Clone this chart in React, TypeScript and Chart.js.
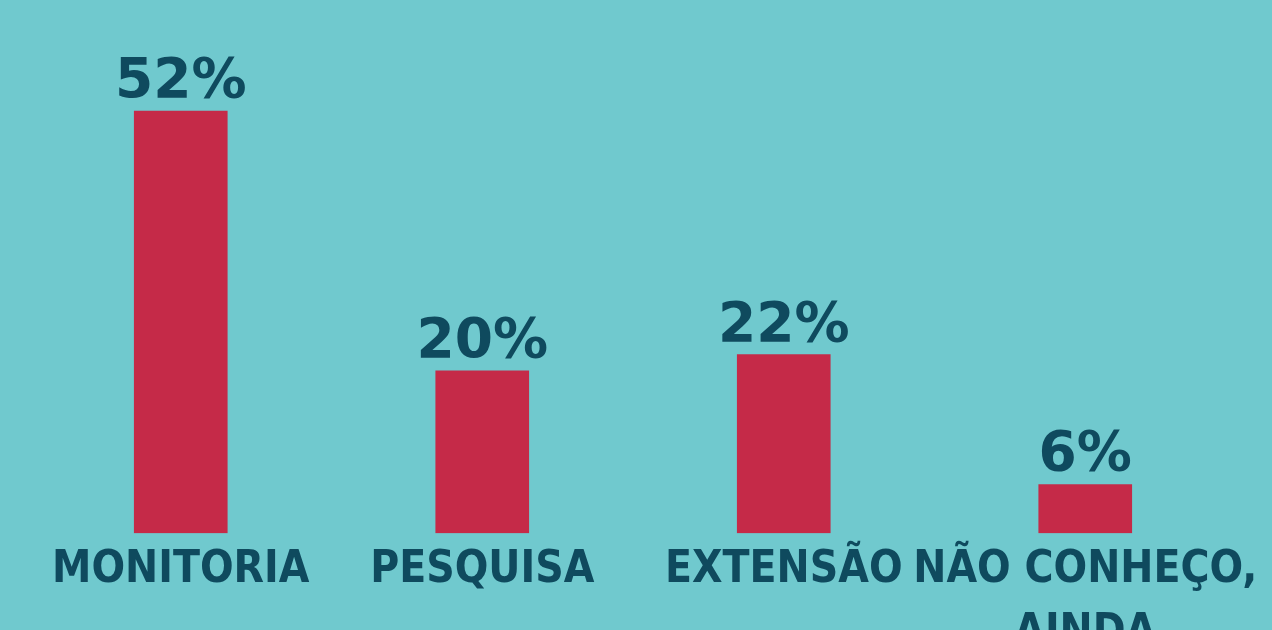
import React, { useEffect, useRef } from "react";
import { Chart, registerables } from "chart.js";

Chart.register(...registerables);

const categories: (string | string[])[] = [
  "MONITORIA",
  "PESQUISA",
  "EXTENSÃO",
  ["NÃO CONHEÇO,", "AINDA"],
];
const values: number[] = [52, 20, 22, 6];

const BG = "#70C9CE";
const BAR = "#C52A48";
const TEXT = "#0F4A5E";

const valueLabels = {
  id: "valueLabels",
  afterDatasetsDraw(chart: any) {
    const ctx = chart.ctx;
    const meta = chart.getDatasetMeta(0);
    ctx.save();
    ctx.fillStyle = TEXT;
    ctx.font = "bold 55px 'DejaVu Sans', sans-serif";
    ctx.textAlign = "center";
    ctx.textBaseline = "alphabetic";
    meta.data.forEach((bar: any, i: number) => {
      ctx.fillText(values[i] + "%", bar.x, bar.y - 14);
    });
    ctx.restore();
  },
};

export default function App() {
  const ref = useRef<HTMLCanvasElement | null>(null);
  useEffect(() => {
    document.body.style.margin = "0";
    document.body.style.background = BG;
    document.body.style.overflow = "hidden";
    if (!ref.current) return;
    const chart = new Chart(ref.current, {
      type: "bar",
      data: {
        labels: categories,
        datasets: [
          {
            data: values,
            backgroundColor: BAR,
            borderWidth: 0,
            barThickness: 93,
          },
        ],
      },
      options: {
        animation: false,
        responsive: false,
        maintainAspectRatio: false,
        layout: { padding: { left: 30, right: 36, top: 0, bottom: 0 } },
        plugins: {
          legend: { display: false },
          tooltip: { enabled: false },
        },
        scales: {
          x: {
            grid: { display: false, drawTicks: false },
            border: { display: false },
            ticks: {
              color: TEXT,
              padding: 6,
              maxRotation: 0,
              autoSkip: false,
              font: {
                family: "'DejaVu Sans Condensed', 'Liberation Sans Narrow', 'DejaVu Sans', sans-serif",
                weight: "bold",
                size: 44,
                lineHeight: 1.43,
              },
            },
          },
          y: {
            display: false,
            min: 0,
            max: 65.7,
          },
        },
      },
      plugins: [valueLabels],
    });
    return () => chart.destroy();
  }, []);
  return (
    <div
      style={{
        position: "fixed",
        left: 0,
        top: 0,
        width: 1272,
        height: 671,
        background: BG,
      }}
    >
      <canvas ref={ref} width={1272} height={671} style={{ display: "block" }} />
    </div>
  );
}
